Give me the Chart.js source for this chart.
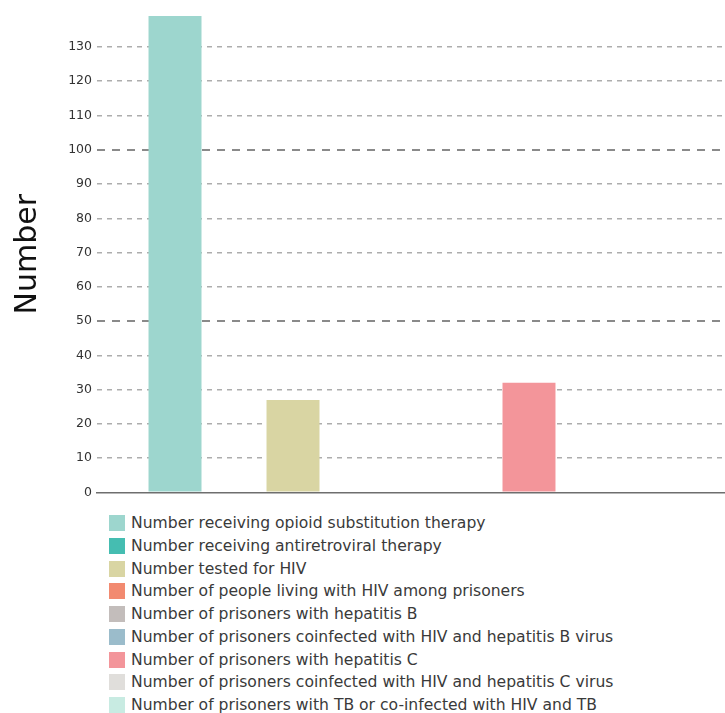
<!DOCTYPE html>
<html>
<head>
<meta charset="utf-8">
<script src="https://cdn.jsdelivr.net/npm/chart.js@4/dist/chart.umd.min.js"></script>
<style>
  html, body { margin: 0; padding: 0; background: #ffffff; }
  #wrap { position: relative; width: 725px; height: 713px; overflow: hidden; }
  #chartBox { position: absolute; left: 0; top: 0; width: 725px; height: 505px; }
  #legend { position: absolute; left: 109px; top: 512px; font-family: "DejaVu Sans", sans-serif; font-size: 15.6px; color: #3a3a3a; }
  #legend .row { height: 22.75px; line-height: 22.75px; white-space: nowrap; }
  #legend .box { display: inline-block; width: 16px; height: 16px; vertical-align: -3px; margin-right: 6px; }
</style>
</head>
<body>
<div id="wrap">
  <div id="chartBox"><canvas id="chart"></canvas></div>
  <div id="legend"></div>
</div>
<script>
// Prison health indicators: one group, one bar per indicator
const categories = [''];
const seriesLabels = [
  'Number receiving opioid substitution therapy',
  'Number receiving antiretroviral therapy',
  'Number tested for HIV',
  'Number of people living with HIV among prisoners',
  'Number of prisoners with hepatitis B',
  'Number of prisoners coinfected with HIV and hepatitis B virus',
  'Number of prisoners with hepatitis C',
  'Number of prisoners coinfected with HIV and hepatitis C virus',
  'Number of prisoners with TB or co-infected with HIV and TB'
];
const seriesValues = [139, null, 27, null, null, null, 32, null, null];
const seriesColors = [
  '#9dd6ce', '#45bdb1', '#d9d5a3', '#f28a70', '#c3bdbb',
  '#9bbccb', '#f3959a', '#e0dedb', '#c8ebe2'
];
const yAxisTitle = 'Number';
const yMax = 139;
const yStep = 10;
const majorEvery = 50;

const datasets = seriesLabels.map((label, i) => ({
  label: label,
  data: [seriesValues[i]],
  backgroundColor: seriesColors[i],
  borderWidth: 0,
  categoryPercentage: 0.8455,
  barPercentage: 0.898
}));

const chart = new Chart(document.getElementById('chart'), {
  type: 'bar',
  data: { labels: categories, datasets: datasets },
  options: {
    responsive: true,
    maintainAspectRatio: false,
    animation: false,
    layout: { padding: { top: 16, bottom: 11, left: 0, right: 0 } },
    plugins: {
      legend: { display: false },
      tooltip: { enabled: false }
    },
    scales: {
      x: {
        afterFit: (s) => { s.height = 0; },
        ticks: { display: false },
        grid: { display: false, drawTicks: false },
        border: { display: true, color: '#6e6e6e', width: 1.5 }
      },
      y: {
        min: 0,
        max: yMax,
        afterFit: (s) => { s.width = 97; },
        ticks: {
          stepSize: yStep,
          includeBounds: false,
          padding: 5,
          color: '#333333',
          font: { family: '"DejaVu Sans", sans-serif', size: 12.5 }
        },
        grid: {
          drawTicks: false,
          color: (ctx) => {
            const v = ctx.tick ? ctx.tick.value : 0;
            if (v === 0) return 'rgba(0,0,0,0)';
            return v % majorEvery === 0 ? '#8a8a8a' : '#adadad';
          },
          lineWidth: (ctx) => {
            const v = ctx.tick ? ctx.tick.value : 0;
            return v % majorEvery === 0 ? 2 : 1.5;
          }
        },
        border: {
          display: false,
          dash: (ctx) => {
            const v = ctx.tick ? ctx.tick.value : 0;
            return v % majorEvery === 0 ? [8, 7] : [5, 5];
          }
        },
        title: {
          display: true,
          text: yAxisTitle,
          color: '#111111',
          padding: { top: 10, bottom: 0 },
          font: { family: '"DejaVu Sans", sans-serif', size: 30, weight: 'normal' }
        }
      }
    }
  }
});

// Vertical legend, one indicator per line
const legendEl = document.getElementById('legend');
chart.data.datasets.forEach((ds) => {
  const row = document.createElement('div');
  row.className = 'row';
  const box = document.createElement('span');
  box.className = 'box';
  box.style.background = ds.backgroundColor;
  row.appendChild(box);
  row.appendChild(document.createTextNode(ds.label));
  legendEl.appendChild(row);
});
</script>
</body>
</html>
